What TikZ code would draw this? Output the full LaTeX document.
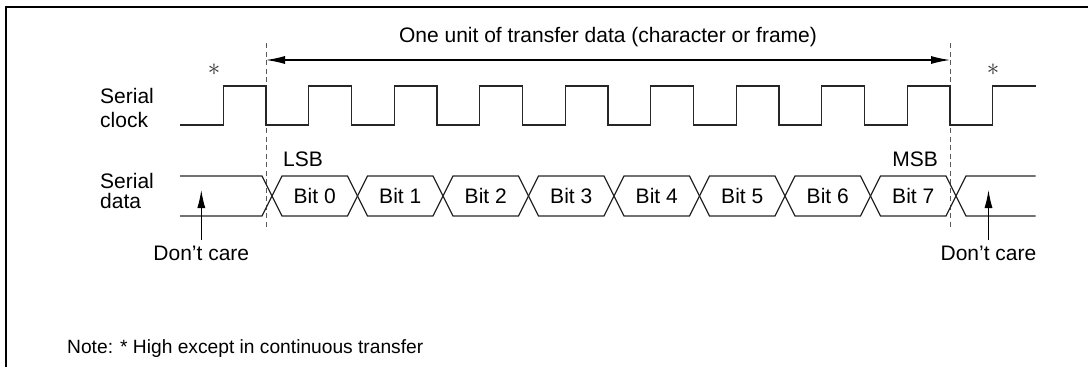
\documentclass[tikz,border=0pt]{standalone}
\usepackage{fontspec}
\setmainfont{Liberation Sans}
\usetikzlibrary{arrows.meta}
\begin{document}
\begin{tikzpicture}[x=1pt,y=-1pt,
  sig/.style={line width=1.2pt,draw=black!85,line join=miter},
  guide/.style={line width=1pt,draw=black!65,dash pattern=on 5pt off 3.5pt},
  lbl/.style={inner sep=0pt,font=\fontsize{21}{24}\selectfont},
  notelbl/.style={inner sep=0pt,font=\fontsize{19.2}{22}\selectfont},
  starlbl/.style={inner sep=0pt,font=\fontsize{30}{30}\selectfont,text=black!80},
  tip/.style={-{Latex[length=18pt,width=8pt]}},
  frame/.style={line width=2pt,draw=black}]
\useasboundingbox (0,0) rectangle (1088,367);
% frame (partially visible)
\draw[frame] (6,368) -- (6,7) -- (1089,7);
% guides
\coordinate (gl1) at (266,43); \coordinate (gl2) at (266,228);
\coordinate (gr1) at (950,43); \coordinate (gr2) at (950,228);
\draw[guide] (gl1) -- (gl2);
\draw[guide] (gr1) -- (gr2);
% unit arrow
\coordinate (al) at (266,60); \coordinate (ar) at (950,60);
\draw[line width=1.1pt,{Latex[length=19pt,width=8pt]}-{Latex[length=19pt,width=8pt]}] (al) -- (ar);
\node[lbl,anchor=base] (unit) at (608,42.3) {One unit of transfer data (character or frame)};
% stars
\node[starlbl] (st1) at (214,70) {$\ast$};
\node[starlbl] (st2) at (993,70) {$\ast$};
% row labels
\node[lbl,anchor=base west] (sc1) at (100,103) {Serial};
\node[lbl,anchor=base west] (sc2) at (100,127) {clock};
\node[lbl,anchor=base west] (sd1) at (100,188.5) {Serial};
\node[lbl,anchor=base west] (sd2) at (100,208.5) {data};
% clock
\draw[sig] (180,125) -- (223.25,125) -- (223.25,86) -- (266,86)
  \foreach \k in {0,...,7} { -- ({266+85.5*\k},86) -- ({266+85.5*\k},125)
     -- ({308.75+85.5*\k},125) -- ({308.75+85.5*\k},86) }
  -- (950,86) -- (950,125) -- (992.75,125) -- (992.75,86) -- (1035.5,86);
% data
\draw[sig] (180,176) -- (262,176) -- (272,196) -- (262,216) -- (180,216);
\draw[sig] (1035.5,176) -- (966,176) -- (956,196) -- (966,216) -- (1035.5,216);
\foreach \k in {0,...,7} {
  \pgfmathsetmacro\a{272+85.5*\k}
  \pgfmathsetmacro\b{\a+85.5}
  \draw[sig] (\a,196) -- ({\a+10},176) -- ({\b-10},176) -- (\b,196) -- ({\b-10},216) -- ({\a+10},216) -- cycle;
  \node[lbl,anchor=base] (bit\k) at ({(\a+\b)/2},203.3) {Bit \k};
}
\node[lbl,anchor=base west] (lsb) at (283,166.5) {LSB};
\node[lbl,anchor=base east] (msb) at (938,166.5) {MSB};
% don't care
\node[lbl,anchor=base] (dcl) at (201.3,260.7) {Don't care};
\node[lbl,anchor=base] (dcr) at (988.5,260.7) {Don't care};
\coordinate (dclt) at (201.3,190);
\coordinate (dcrt) at (988.5,190);
\draw[line width=1.1pt,tip,shorten <=6pt] (dcl.north) -- (dclt);
\draw[line width=1.1pt,tip,shorten <=6pt] (dcr.north) -- (dcrt);
% note
\node[notelbl,anchor=base west] (note) at (67,353) {Note: * High except in continuous transfer};
\end{tikzpicture}
\end{document}
